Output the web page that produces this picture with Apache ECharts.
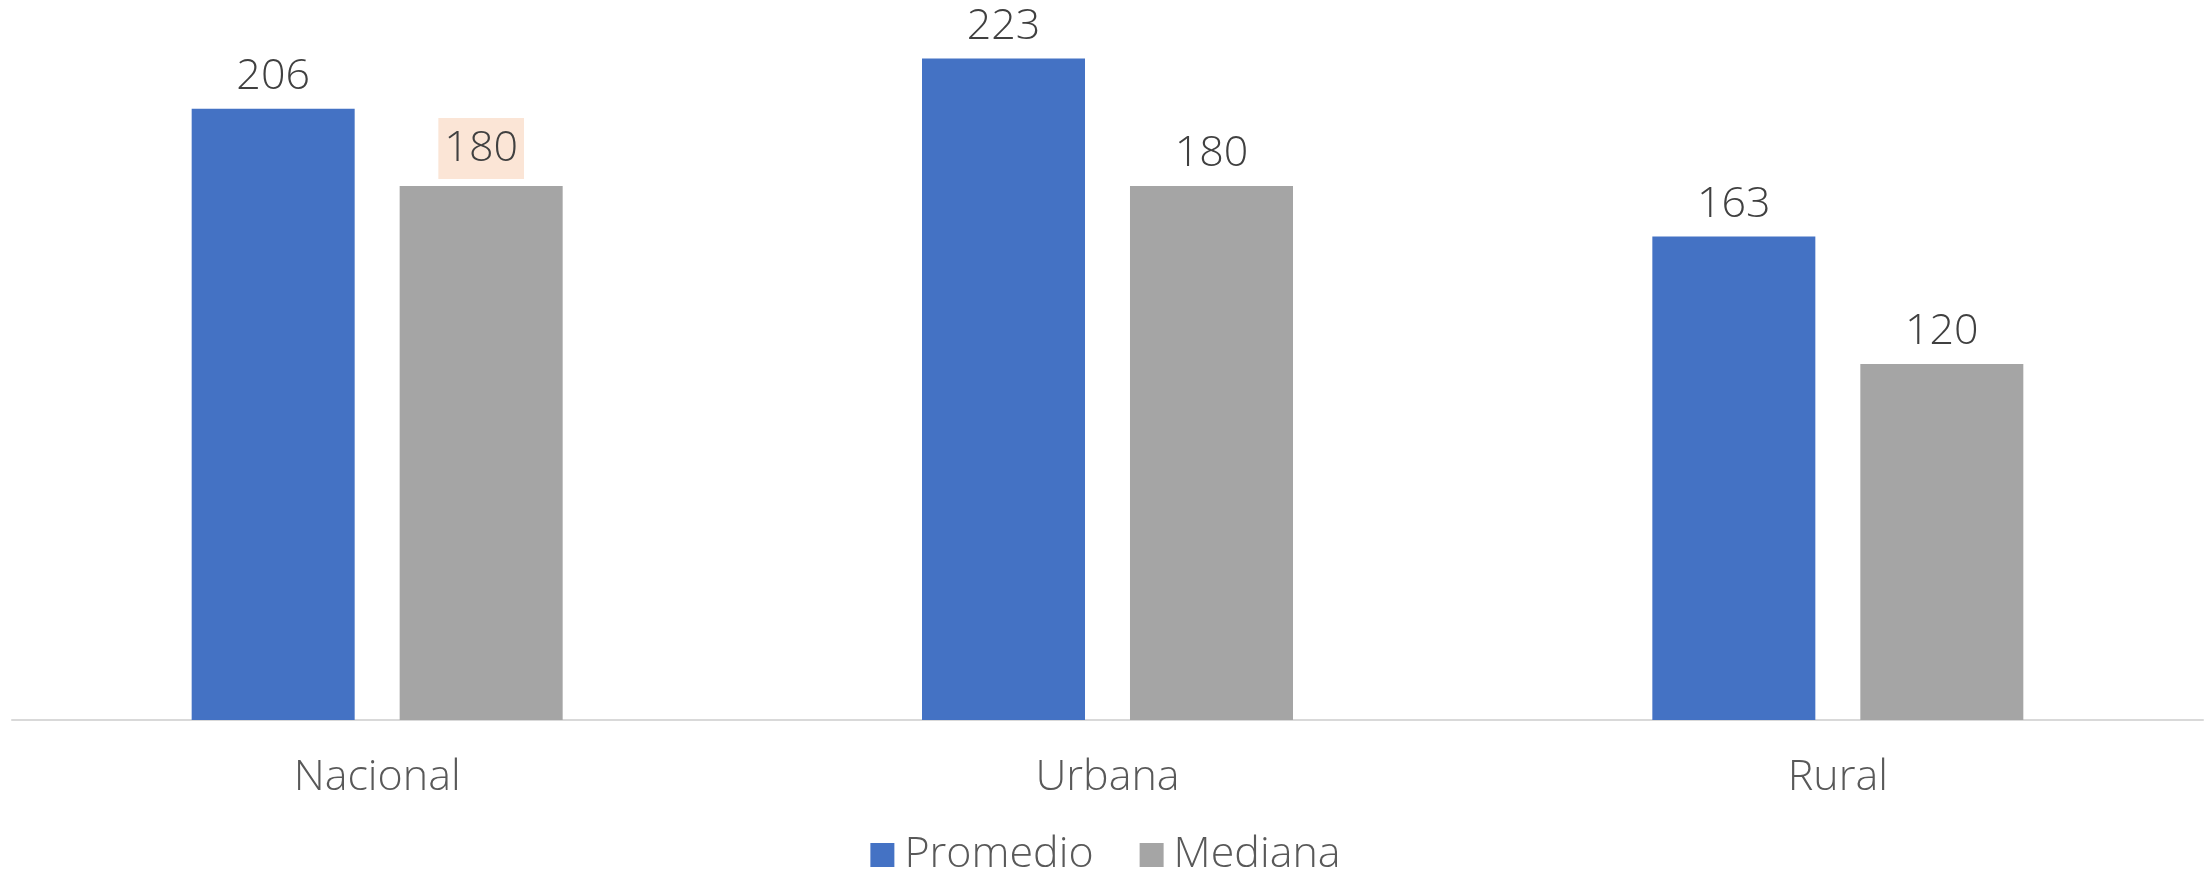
<!DOCTYPE html>
<html>
<head>
<meta charset="utf-8">
<script src="https://cdn.jsdelivr.net/npm/echarts@6/dist/echarts.min.js"></script>
<style>
  html, body { margin: 0; padding: 0; background: #ffffff; }
  #chart { width: 2211px; height: 869px; }
</style>
</head>
<body>
<div id="chart"></div>
<script>
// Ámbitos y valores por serie
const categories = ['Nacional', 'Urbana', 'Rural'];
const promedio = [206, 223, 163];
const mediana = [180, 180, 120];
const seriesNames = ['Promedio', 'Mediana'];
// Etiqueta de la mediana que va resaltada
const highlightIndex = 0;

const FONT = '"Open Sans", "Noto Sans", sans-serif';
const labelBase = {
  show: true,
  position: 'top',
  distance: 10,
  color: '#404040',
  fontFamily: FONT,
  fontWeight: 300,
  fontSize: 43,
  lineHeight: 44
};

const medianaData = mediana.map((v, i) => i === highlightIndex
  ? {
      value: v,
      label: {
        backgroundColor: '#FBE5D6',
        padding: [9, 6, 8, 6],
        distance: 7
      }
    }
  : v);

const chart = echarts.init(document.getElementById('chart'));
chart.setOption({
  animation: false,
  backgroundColor: '#ffffff',
  grid: { left: 12, right: 8, top: 8, bottom: 149, containLabel: false },
  legend: {
    data: seriesNames,
    top: 828,
    left: 'center',
    icon: 'rect',
    itemWidth: 24,
    itemHeight: 24,
    itemGap: 46,
    textStyle: { color: '#595959', fontFamily: FONT, fontWeight: 300, fontSize: 43, lineHeight: 44, padding: [0, 0, 0, 5] }
  },
  xAxis: {
    type: 'category',
    data: categories,
    axisLine: { lineStyle: { color: '#D9D9D9', width: 2 } },
    axisTick: { show: false },
    axisLabel: { color: '#595959', fontFamily: FONT, fontWeight: 300, fontSize: 43, lineHeight: 44, margin: 36 }
  },
  yAxis: {
    type: 'value',
    min: 0,
    max: 240,
    show: false,
    splitLine: { show: false }
  },
  series: [
    {
      name: seriesNames[0],
      type: 'bar',
      data: promedio,
      barWidth: 163,
      barGap: '27.6%',
      itemStyle: { color: '#4472C4' },
      label: labelBase
    },
    {
      name: seriesNames[1],
      type: 'bar',
      data: medianaData,
      barWidth: 163,
      barGap: '27.6%',
      itemStyle: { color: '#A5A5A5' },
      label: labelBase
    }
  ]
});
</script>
</body>
</html>
